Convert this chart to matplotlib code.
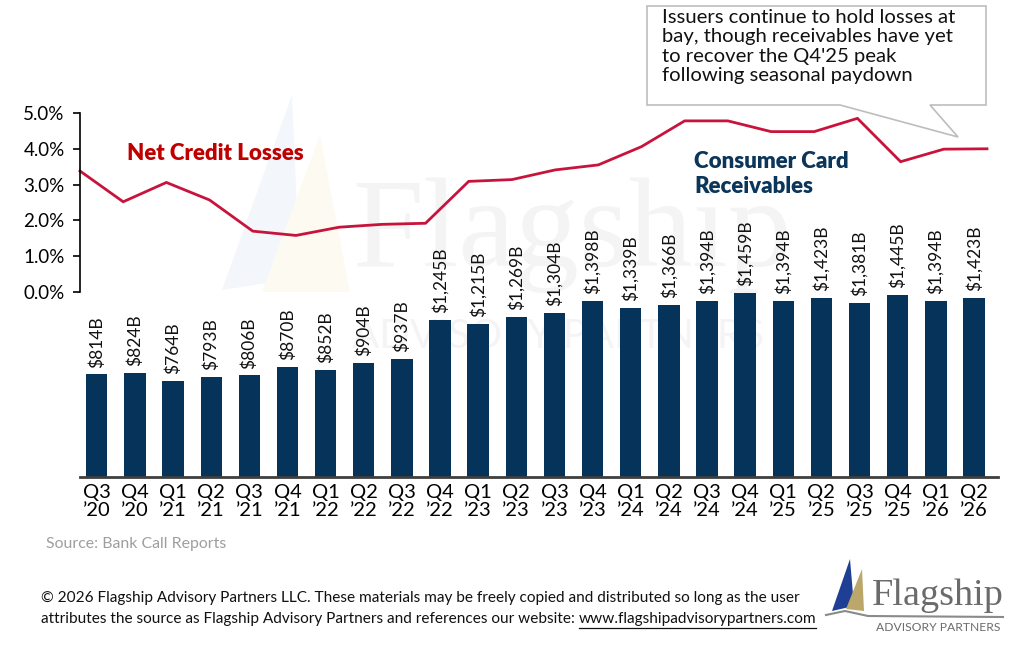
import matplotlib
matplotlib.use("Agg")
import matplotlib.pyplot as plt
import numpy as np
from matplotlib.patches import Polygon
from matplotlib.ticker import FuncFormatter

plt.rcParams['font.family'] = ['Lato', 'DejaVu Sans']

# data
quarters = ["Q3\n’20", "Q4\n’20", "Q1\n’21", "Q2\n’21", "Q3\n’21", "Q4\n’21",
            "Q1\n’22", "Q2\n’22", "Q3\n’22", "Q4\n’22", "Q1\n’23", "Q2\n’23",
            "Q3\n’23", "Q4\n’23", "Q1\n’24", "Q2\n’24", "Q3\n’24", "Q4\n’24",
            "Q1\n’25", "Q2\n’25", "Q3\n’25", "Q4\n’25", "Q1\n’26", "Q2\n’26"]
receivables = [814, 824, 764, 793, 806, 870, 852, 904, 937, 1245, 1215, 1269,
               1304, 1398, 1339, 1366, 1394, 1459, 1394, 1423, 1381, 1445, 1394, 1423]
# net credit losses (%), 22 points spread over the full width
ncl = [3.38, 2.52, 3.06, 2.57, 1.70, 1.58, 1.81, 1.89, 1.92, 3.09, 3.14,
       3.41, 3.55, 4.06, 4.78, 4.78, 4.48, 4.48, 4.85, 3.64, 3.99, 4.00]
pct_ticks = [0, 1, 2, 3, 4, 5]

NAVY = '#05335A'
RED = '#C8143C'

W, H = 1024, 657
def fx(x):
    return x / W
def fy(y):
    return 1 - y / H
def fp(pts):
    return [(fx(a), fy(b)) for a, b in pts]

fig = plt.figure(figsize=(10.24, 6.57), dpi=100)

# faint watermark behind the chart
fig.patches.append(Polygon(fp([(292, 95), (222, 290), (300, 278)]), closed=True,
                           transform=fig.transFigure, fc='#f3f6fb', ec='none', zorder=-2))
fig.patches.append(Polygon(fp([(320, 135), (262, 292), (350, 292)]), closed=True,
                           transform=fig.transFigure, fc='#fdfbf1', ec='none', zorder=-2))
fig.text(fx(352), fy(266), "Flagship", family='Liberation Serif', fontsize=92,
         color='#f4f4f4', ha='left', va='baseline', zorder=-1)
fig.text(fx(352), fy(336), "ADVISORY PARTNERS", fontsize=29,
         color='#f4f4f4', ha='left', va='center', zorder=-1)

# bars
ax_bar = fig.add_axes([fx(80), fy(477.3), fx(998) - fx(80), fy(112) - fy(477.3)])
ax_bar.set_facecolor('none')
x = np.arange(len(receivables))
bars = ax_bar.bar(x, receivables, width=0.56, color=NAVY)
ax_bar.bar_label(bars, labels=[f"${v:,}B" for v in receivables], rotation=90,
                 padding=5, fontsize=12.5, color='#111111')
ax_bar.set_xlim(-0.44, 23.63)
ax_bar.set_ylim(0, 2892)
ax_bar.set_yticks([])
ax_bar.set_xticks(x)
ax_bar.set_xticklabels(quarters, fontsize=14.5, linespacing=1.08)
ax_bar.tick_params(axis='x', length=0, pad=5)
for s in ['top', 'right', 'left']:
    ax_bar.spines[s].set_visible(False)
ax_bar.spines['bottom'].set_color('#3f3f3f')
ax_bar.spines['bottom'].set_linewidth(2)

# line
ax_line = fig.add_axes([fx(80), fy(292), fx(987) - fx(80), fy(113) - fy(292)])
ax_line.set_facecolor('none')
ax_line.plot(np.arange(len(ncl)), ncl, color=RED, lw=2.0, clip_on=False,
             solid_joinstyle='miter')
ax_line.set_xlim(0, len(ncl) - 1)
ax_line.set_ylim(0, 5)
ax_line.set_yticks(pct_ticks)
ax_line.yaxis.set_major_formatter(FuncFormatter(lambda v, p: f"{v:.1f}%"))
ax_line.set_xticks([])
ax_line.tick_params(axis='y', length=5, width=1.2, labelsize=13.5, pad=6)
for s in ['top', 'right', 'bottom']:
    ax_line.spines[s].set_visible(False)
ax_line.spines['left'].set_linewidth(1.2)

# series labels
fig.text(fx(127), fy(154), "Net Credit Losses", fontsize=16, fontweight='heavy',
         color='#C00000', ha='left', va='center')
fig.text(fx(694), fy(174), "Consumer Card\nReceivables", fontsize=16, fontweight='heavy',
         color='#0B3559', ha='left', va='center', linespacing=1.25)

# callout
fig.patches.append(Polygon(fp([(647, 6), (986, 6), (986, 105), (930, 105), (958, 137),
                               (840, 105), (647, 105)]), closed=True,
                           transform=fig.transFigure, fc='white', ec='#bdbdbd', lw=1.2))
fig.text(fx(662), fy(9), "Issuers continue to hold losses at\nbay, though receivables have yet\n"
         "to recover the Q4'25 peak\nfollowing seasonal paydown",
         fontsize=14.6, color='#111111', ha='left', va='top', linespacing=1.17)

# source and footer
fig.text(fx(46), fy(544), "Source: Bank Call Reports", fontsize=11.4, color='#9e9e9e',
         ha='left', va='center')
fig.text(fx(41), fy(598), "© 2026 Flagship Advisory Partners LLC. These materials may be freely "
         "copied and distributed so long as the user", fontsize=11.05, color='#111111',
         ha='left', va='center')
t2 = fig.text(fx(41), fy(619), "attributes the source as Flagship Advisory Partners and "
              "references our website: ", fontsize=11.05, color='#111111',
              ha='left', va='center')
fig.canvas.draw()
bb = t2.get_window_extent()
url = fig.text(bb.x1 / W, fy(619), "www.flagshipadvisorypartners.com", fontsize=11.05,
               color='#111111', ha='left', va='center')
ub = url.get_window_extent(renderer=fig.canvas.get_renderer())
fig.add_artist(plt.Line2D([ub.x0 / W, ub.x1 / W], [fy(628), fy(628)],
                          transform=fig.transFigure, color='#111111', lw=0.9))

# logo
fig.patches.append(Polygon(fp([(850, 559), (832, 611), (854, 606)]), closed=True,
                           transform=fig.transFigure, fc='#1f3f95', ec='none'))
fig.patches.append(Polygon(fp([(862, 569), (846, 609), (864, 611)]), closed=True,
                           transform=fig.transFigure, fc='#bba76a', ec='none'))
fig.add_artist(plt.Line2D([fx(826), fx(845), fx(868), fx(1003)],
                          [fy(615), fy(611), fy(616), fy(617)],
                          transform=fig.transFigure, color='#8a8a8a', lw=1.5))
fig.text(fx(872), fy(605), "Flagship", family='Liberation Serif', fontsize=27.5,
         color='#6b6b6b', ha='left', va='baseline')
fig.text(fx(876), fy(631), "ADVISORY PARTNERS", fontsize=8.7, color='#6b6b6b',
         ha='left', va='baseline')

fig.savefig("out.png", dpi=100)
